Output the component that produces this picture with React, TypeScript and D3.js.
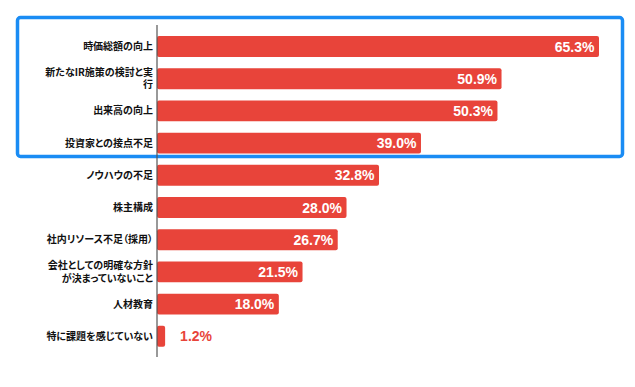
import React, { useEffect, useRef } from 'react';
import * as d3 from 'd3';

// categories (line breaks as in the original labels)
const categories = [
  ['時価総額の向上'],
  ['新たなIR施策の検討と実', '行'],
  ['出来高の向上'],
  ['投資家との接点不足'],
  ['ノウハウの不足'],
  ['株主構成'],
  ['社内リソース不足（採用）'],
  ['会社としての明確な方針', 'が決まっていないこと'],
  ['人材教育'],
  ['特に課題を感じていない'],
];
const values = [65.3, 50.9, 50.3, 39.0, 32.8, 28.0, 26.7, 21.5, 18.0, 1.2];

const W = 635;
const H = 387;
const RED = '#e8443a';
const BLUE = '#1a8cf4';

const App = () => {
  const svgRef = useRef<SVGSVGElement>(null);

  useEffect(() => {
    const svg = d3.select(svgRef.current);
    svg.selectAll('*').remove();

    const x = d3.scaleLinear().domain([0, d3.max(values) as number]).range([157, 599]);
    const y = d3.scaleBand<number>()
      .domain(d3.range(values.length))
      .range([30.4, 352.4])
      .paddingInner(0.35)
      .paddingOuter(0.175);

    // highlight frame
    svg.append('rect')
      .attr('x', 17.5).attr('y', 17.5)
      .attr('width', 605).attr('height', 139)
      .attr('rx', 3)
      .attr('fill', 'none')
      .attr('stroke', BLUE)
      .attr('stroke-width', 3.5);

    // bars
    svg.append('g').selectAll('rect')
      .data(values)
      .join('rect')
      .attr('x', x(0))
      .attr('y', (_, i) => y(i) as number)
      .attr('width', d => x(d) - x(0))
      .attr('height', y.bandwidth())
      .attr('rx', 2)
      .attr('fill', RED);

    // value labels
    svg.append('g').selectAll('text')
      .data(values)
      .join('text')
      .attr('x', d => (d < 5 ? x(d) + 15 : x(d) - 4.5))
      .attr('y', (_, i) => (y(i) as number) + y.bandwidth() / 2)
      .attr('dy', '0.36em')
      .attr('text-anchor', d => (d < 5 ? 'start' : 'end'))
      .attr('fill', d => (d < 5 ? RED : '#fff'))
      .style('font-family', '"Liberation Sans", Arial, sans-serif')
      .style('font-size', '14px')
      .style('font-weight', 'bold')
      .text(d => `${d.toFixed(1)}%`);

    // category labels
    const labels = svg.append('g').selectAll('text')
      .data(categories)
      .join('text')
      .attr('text-anchor', 'end')
      .attr('fill', '#111')
      .style('font-family', '"Noto Sans CJK JP", sans-serif')
      .style('font-size', '10px')
      .style('font-weight', 'bold')
      .style('font-feature-settings', '"palt"');

    labels.each(function (lines, i) {
      const cy = (y(i) as number) + y.bandwidth() / 2;
      const lh = 12.5;
      const top = cy - ((lines.length - 1) * lh) / 2;
      d3.select(this).selectAll('tspan')
        .data(lines)
        .join('tspan')
        .attr('x', 153)
        .attr('y', (_, j) => top + j * lh)
        .attr('dy', '0.35em')
        .text(t => t);
    });

    // axis line
    svg.append('line')
      .attr('x1', x(0)).attr('x2', x(0))
      .attr('y1', 25).attr('y2', 357)
      .attr('stroke', '#555')
      .attr('stroke-width', 1.2);
  }, []);

  return (
    <svg
      ref={svgRef}
      width={W}
      height={H}
      style={{ position: 'absolute', left: 0, top: 0, background: '#fff' }}
    />
  );
};

export default App;
